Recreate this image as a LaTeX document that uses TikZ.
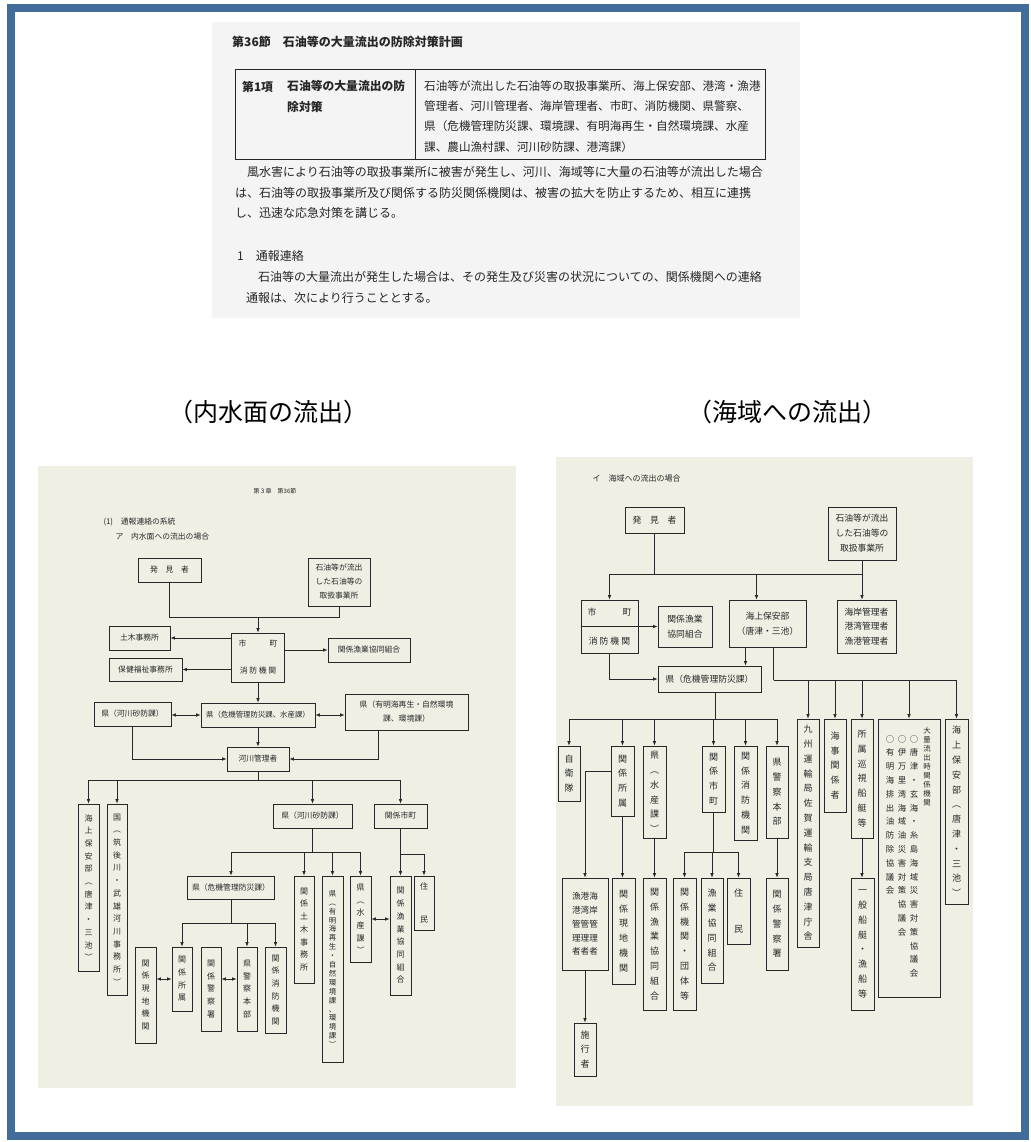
\documentclass[tikz,border=0pt]{standalone}
\usepackage{fontspec}
\setmainfont{Noto Sans CJK JP}
\usepackage{tikz}
\usetikzlibrary{arrows.meta}
\usetikzlibrary{positioning}
\tikzset{>={Latex[length=4.5pt,width=3.6pt]}}
\definecolor{frameblue}{RGB}{66,109,155}
\definecolor{scanbeige}{RGB}{239,239,228}
\definecolor{scangray}{RGB}{244,244,244}
\definecolor{ink}{RGB}{40,40,40}
\makeatletter
\newcommand\vstk[1]{\def\vs@out{}\@tfor\vs@c:=#1\do{\ifx\vs@out\@empty\edef\vs@out{\vs@c}\else\edef\vs@out{\unexpanded\expandafter{\vs@out}\noexpand\\\vs@c}\fi}\vs@out}
\makeatother

\begin{document}
\begin{tikzpicture}[x=1pt,y=-1pt,
	orgbox/.style={draw=ink,line width=0.7pt,text=ink,inner sep=1pt,align=center},
	sz/.style 2 args={minimum width=#1,minimum height=#2},
	lbox/.style={orgbox,font=\fontsize{7.8}{10}\selectfont},
	lvbox/.style={orgbox,font=\fontsize{8}{12.7}\selectfont},
	rbox/.style={orgbox,font=\fontsize{8.8}{14.5}\selectfont},
	rvbox/.style={orgbox,font=\fontsize{9}{14.8}\selectfont},
	colstyle/.style={anchor=north,inner sep=0pt,text=ink,align=center,font=\fontsize{8.4}{13.8}\selectfont},
	ptext/.style={text=black!85,inner sep=0pt,align=left,font=\fontsize{12}{20.8}\selectfont},
	wire/.style={draw=ink,line width=0.7pt}]
	\useasboundingbox (0,0) rectangle (1030,1142);
	\fill[white] (0,0) rectangle (1030,1142);
	\draw[frameblue,line width=8pt] (11,8) rectangle (1025,1136);
	\fill[scangray] (212,22) rectangle (800,318);
	\fill[scanbeige] (38,466) rectangle (516,1088);
	\fill[scanbeige] (556,457) rectangle (973,1106);

	% excerpt of the plan
	\node[ptext,anchor=west,font=\bfseries\fontsize{12}{14}\selectfont] (sectitle) at (232,42) {第36節　石油等の大量流出の防除対策計画};
	\draw[line width=1pt,black!85] (235,70) rectangle (765,160);
	\draw[line width=1pt,black!85] (415,70) -- (415,160);
	\node[ptext,anchor=west,font=\bfseries\fontsize{11.8}{20.8}\selectfont] (itemno) at (242,87) {第1項};
	\node[ptext,anchor=north west,font=\bfseries\fontsize{11.8}{20.8}\selectfont] (itemname) at (287,80) {石油等の大量流出の防\\除対策};
	\node[ptext,anchor=north west,font=\fontsize{11.6}{20.4}\selectfont] (itemorgs) at (424,80) {石油等が流出した石油等の取扱事業所、海上保安部、港湾・漁港\\管理者、河川管理者、海岸管理者、市町、消防機関、県警察、\\県（危機管理防災課、環境課、有明海再生・自然環境課、水産\\課、農山漁村課、河川砂防課、港湾課）};
	\node[ptext,anchor=north west] (causetext) at (235,166) {　風水害により石油等の取扱事業所に被害が発生し、河川、海域等に大量の石油等が流出した場合\\は、石油等の取扱事業所及び関係する防災関係機関は、被害の拡大を防止するため、相互に連携\\し、迅速な応急対策を講じる。};
	\node[ptext,anchor=west] (sec1) at (237,256) {1　通報連絡};
	\node[ptext,anchor=north west] (sec1text) at (246,271) {　石油等の大量流出が発生した場合は、その発生及び災害の状況についての、関係機関への連絡\\通報は、次により行うこととする。};

	\node[font=\fontsize{25}{30}\selectfont] (ttlleft) at (268,412) {（内水面の流出）};
	\node[font=\fontsize{25}{30}\selectfont] (ttlright) at (787,412) {（海域への流出）};

	% inland water
	\node[text=ink,font=\fontsize{6}{7}\selectfont] (Lchap) at (275,491) {第３章　第36節};
	\node[text=ink,anchor=west,font=\fontsize{7.8}{9}\selectfont] (Lsub1) at (100,522) {(1)　通報連絡の系統};
	\node[text=ink,anchor=west,font=\fontsize{7.8}{9}\selectfont] (Lsub2) at (112,537) {ア　内水面への流出の場合};
	\node[lbox,sz={63}{24}] (Lfinder) at (169.5,570) {発　見　者};
	\node[lbox,sz={62}{48},font=\fontsize{7.8}{14}\selectfont] (Loil) at (339,582) {石油等が流出\\した石油等の\\取扱事業所};
	\node[lbox,sz={53}{49},font=\fontsize{7.8}{27}\selectfont] (Lcity) at (258,657.5) {市　　　町\\消 防 機 関};
	\node[lbox,sz={61}{24}] (Ldoboku) at (139.5,638) {土木事務所};
	\node[lbox,sz={73}{23}] (Lhoken) at (145.5,669.5) {保健福祉事務所};
	\node[lbox,sz={82}{24}] (Lgyokyo) at (369,650) {関係漁業協同組合};
	\node[lbox,sz={114}{24},font=\fontsize{7.4}{10}\selectfont] (Lkiki) at (258,715) {県（危機管理防災課、水産課）};
	\node[lbox,sz={77}{24}] (Lsabo) at (132.5,714) {県（河川砂防課）};
	\node[lbox,sz={123}{36},font=\fontsize{7.8}{14}\selectfont] (Lariake) at (406.5,712) {県（有明海再生・自然環境\\課、環境課）};
	\node[lbox,sz={62}{24}] (Lkasen) at (258,759) {河川管理者};
	\node[lvbox,sz={21}{167}] (Lkaiho) at (88.5,887.5) {\vstk{海上保安部︵唐津・三池︶}};
	\node[lvbox,sz={20}{191}] (Lkuni) at (117,899.5) {\vstk{国︵筑後川・武雄河川事務所︶}};
	\node[lbox,sz={79}{24}] (Lsabo2) at (312.5,816) {県（河川砂防課）};
	\node[lbox,sz={53}{24}] (Lshicho) at (400.5,816) {関係市町};
	\node[lbox,sz={87}{23}] (Lkiki2) at (231,887.5) {県（危機管理防災課）};
	\node[lvbox,sz={20}{107}] (Ldoboku2) at (304,929.5) {\vstk{関係土木事務所}};
	\node[lvbox,sz={21}{186},font=\fontsize{7.4}{8.9}\selectfont] (Lariake2) at (332.5,969) {\vstk{県︵有明海再生・自然環境課、環境課︶}};
	\node[lvbox,sz={21}{86}] (Lsuisan) at (360.5,919) {\vstk{県︵水産課︶}};
	\node[lvbox,sz={21}{119}] (Lgyokyo2) at (400.5,935.5) {\vstk{関係漁業協同組合}};
	\node[lvbox,sz={20}{54}] (Ljumin) at (424,903) {住\\[20pt]民};
	\node[lvbox,sz={21}{96}] (Lgenchi) at (145.5,995) {\vstk{関係現地機関}};
	\node[lvbox,sz={20}{64}] (Lshozoku) at (182,979) {\vstk{関係所属}};
	\node[lvbox,sz={20}{84}] (Lkeisatsu) at (211,989) {\vstk{関係警察署}};
	\node[lvbox,sz={20}{84}] (Lkenkei) at (247,989) {\vstk{県警察本部}};
	\node[lvbox,sz={21}{86}] (Lshobo) at (275.5,990) {\vstk{関係消防機関}};

	\draw[wire] (Lfinder.south) -- ++(0,35) coordinate (Lf1) -| (Loil.south);
	\draw[wire,->] (Lf1 -| Lcity.north) -- (Lcity.north);
	\draw[wire,->] (Lcity.west |- Ldoboku.east) -- (Ldoboku.east);
	\draw[wire,->] (Lcity.west |- Lhoken.east) -- (Lhoken.east);
	\draw[wire,->] (Lcity.east |- Lgyokyo.west) -- (Lgyokyo.west);
	\draw[wire,->] (Lcity.south) -- (Lkiki.north);
	\draw[wire,<->] (Lsabo.east |- Lkiki.west) -- (Lkiki.west);
	\draw[wire,<->] (Lkiki.east) -- (Lkiki.east -| Lariake.west);
	\draw[wire,->] (Lkiki.south) -- (Lkasen.north);
	\draw[wire,->] (Lsabo.south) |- (Lkasen.west);
	\coordinate (Lariakeout) at ([xshift=-28pt]Lariake.south);
	\draw[wire,->] (Lariakeout) |- (Lkasen.east);
	\draw[wire] (Lkasen.south) -- ++(0,9) coordinate (Lj2);
	\foreach \n in {Lkaiho,Lkuni,Lsabo2,Lshicho} \draw[wire,->] (Lj2) -| (\n.north);
	\draw[wire] (Lsabo2.south) -- ++(0,24) coordinate (Lj3);
	\foreach \n in {Lkiki2,Ldoboku2,Lariake2,Lsuisan} \draw[wire,->] (Lj3) -| (\n.north);
	\draw[wire] (Lshicho.south) -- ++(0,26) coordinate (Lj4);
	\foreach \n in {Lgyokyo2,Ljumin} \draw[wire,->] (Lj4) -| (\n.north);
	\draw[wire,<->] (Lsuisan.east) -- (Lsuisan.east -| Lgyokyo2.west);
	\draw[wire] (Lkiki2.south) -- ++(0,24) coordinate (Lj5);
	\foreach \n in {Lshozoku,Lkenkei,Lshobo} \draw[wire,->] (Lj5) -| (\n.north);
	\draw[wire,<->] (Lgenchi.east |- Lshozoku.west) -- (Lshozoku.west);
	\draw[wire,<->] (Lkeisatsu.east |- Lshozoku.west) -- (Lkenkei.west |- Lshozoku.west);

	% sea area
	\node[text=ink,anchor=west,font=\fontsize{8}{9}\selectfont] (Rsub) at (589,478) {イ　海域への流出の場合};
	\node[rbox,sz={59}{26}] (Rfinder) at (654.5,520) {発　見　者};
	\node[rbox,sz={68}{53},font=\fontsize{8.8}{15}\selectfont] (Roil) at (862,533.5) {石油等が流出\\した石油等の\\取扱事業所};
	\node[rbox,sz={57}{53},font=\fontsize{8.8}{29}\selectfont] (Rcity) at (609.5,626.5) {市　　　町\\消 防 機 関};
	\draw[wire] (Rcity.west) -- (Rcity.east);
	\node[rbox,sz={54}{41}] (Rgyokyo) at (685,626.5) {関係漁業\\協同組合};
	\node[rbox,sz={77}{47}] (Rhoan) at (767.5,623.5) {海上保安部\\（唐津・三池）};
	\node[rbox,sz={59}{53}] (Rkaigan) at (866.5,626.5) {海岸管理者\\港湾管理者\\漁港管理者};
	\node[rbox,sz={103}{26}] (Rkiki) at (709.5,679) {県（危機管理防災課）};
	\node[rvbox,sz={22}{55}] (Rjieitai) at (569,773.5) {\vstk{自衛隊}};
	\node[rvbox,sz={23}{70}] (Rshozoku) at (622.5,781) {\vstk{関係所属}};
	\node[rvbox,sz={23}{92}] (Rsuisan) at (654.5,792) {\vstk{県︵水産課︶}};
	\node[rvbox,sz={23}{66}] (Rshicho) at (713.5,779) {\vstk{関係市町}};
	\node[rvbox,sz={23}{94}] (Rshobo) at (745.5,793) {\vstk{関係消防機関}};
	\node[rvbox,sz={22}{92}] (Rkenkei) at (777,792) {\vstk{県警察本部}};
	\node[rvbox,sz={22}{228}] (Runyu) at (808,833) {\vstk{九州運輸局佐賀運輸支局唐津庁舎}};
	\node[rvbox,sz={22}{93}] (Rkaiji) at (835,765.5) {\vstk{海事関係者}};
	\node[rvbox,sz={22}{119}] (Rjunshi) at (862,778.5) {\vstk{所属巡視船艇等}};
	\node[rbox,sz={62}{278}] (Rtairyo) at (909,858) {};
	\node[colstyle,font=\fontsize{7.4}{9}\selectfont] (Rtairyo1) at (927,727) {\vstk{大量流出時関係機関}};
	\node[colstyle] (Rtairyo2) at (914,735) {\vstk{○唐津・玄海・糸島海域災害対策協議会}};
	\node[colstyle] (Rtairyo3) at (902,735) {\vstk{○伊万里湾海域油災害対策協議会}};
	\node[colstyle] (Rtairyo4) at (890,735) {\vstk{○有明海排出油防除協議会}};
	\node[rvbox,sz={23}{185}] (Rkaiho2) at (956.5,811.5) {\vstk{海上保安部︵唐津・三池︶}};
	\node[rbox,sz={46}{92},font=\fontsize{8.6}{13.8}\selectfont] (Rkowan) at (585,924) {漁港海\\港湾岸\\管管管\\理理理\\者者者};
	\node[rvbox,sz={23}{106}] (Rgenchi) at (623.5,931) {\vstk{関係現地機関}};
	\node[rvbox,sz={23}{132}] (Rgyokyo2) at (654.5,944) {\vstk{関係漁業協同組合}};
	\node[rvbox,sz={23}{132}] (Rkikan) at (684.5,944) {\vstk{関係機関・団体等}};
	\node[rvbox,sz={22}{105}] (Rgyogyo) at (712,930.5) {\vstk{漁業協同組合}};
	\node[rvbox,sz={23}{66}] (Rjumin) at (738.5,911) {住\\[22pt]民};
	\node[rvbox,sz={22}{92}] (Rkeisatsu) at (777,924) {\vstk{関係警察署}};
	\node[rvbox,sz={23}{132}] (Rippan) at (862.5,944) {\vstk{一般船艇・漁船等}};
	\node[rvbox,sz={22}{53}] (Rsekou) at (585,1049.5) {\vstk{施行者}};

	\draw[wire] (Rfinder.south) -- ++(0,41) coordinate (Rj1);
	\draw[wire] (Roil.south) -- ++(0,14) coordinate (Rj2);
	\draw[wire,->] (Rj2) -- (Rj2 |- Rkaigan.north);
	\draw[wire,->] (Rj2) -| (Rcity.north);
	\coordinate (Rhoanin) at ([xshift=-11pt]Rhoan.north);
	\draw[wire,->] (Rhoanin |- Rj1) -- (Rhoanin);
	\draw[wire,->] (Rcity.east |- Rgyokyo.west) -- (Rgyokyo.west);
	\draw[wire,->] (Rcity.south) |- (Rkiki.west);
	\coordinate (Rhoanout) at ([xshift=-22pt]Rhoan.south);
	\draw[wire,->] (Rhoanout) -- (Rhoanout |- Rkiki.north);
	\draw[wire] ([xshift=6pt]Rhoan.south) -- ++(0,33) coordinate (Rj3);
	\foreach \n in {Runyu,Rkaiji,Rjunshi,Rtairyo,Rkaiho2} \draw[wire,->] (Rj3) -| (\n.north);
	\draw[wire] ([xshift=6pt]Rkiki.south) -- ++(0,27) coordinate (Rj4);
	\foreach \n in {Rjieitai,Rshozoku,Rsuisan,Rshicho,Rshobo,Rkenkei} \draw[wire,->] (Rj4) -| (\n.north);
	\draw[wire,->] ([yshift=-26pt]Rshozoku.north west) -| (Rkowan.north);
	\draw[wire,->] (Rshozoku.south) -- (Rshozoku.south |- Rgenchi.north);
	\draw[wire,->] (Rsuisan.south) -- (Rsuisan.south |- Rgyokyo2.north);
	\draw[wire] (Rshicho.south) -- ++(0,40) coordinate (Rj5);
	\foreach \n in {Rkikan,Rgyogyo,Rjumin} \draw[wire,->] (Rj5) -| (\n.north);
	\draw[wire,->] (Rkenkei.south) -- (Rkenkei.south |- Rkeisatsu.north);
	\draw[wire,->] (Rjunshi.south) -- (Rjunshi.south |- Rippan.north);
	\draw[wire,->] (Rkowan.south) -- (Rkowan.south |- Rsekou.north);
\end{tikzpicture}
\end{document}
